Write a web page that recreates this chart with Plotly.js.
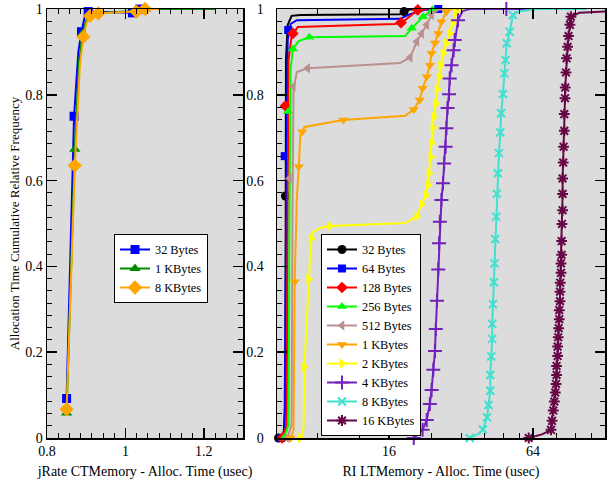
<!DOCTYPE html>
<html><head><meta charset="utf-8">
<script src="https://cdn.plot.ly/plotly-3.0.1.min.js"></script>
<style>html,body{margin:0;padding:0;background:#fff}#chart{width:608px;height:485px}</style>
</head><body><div id="chart"></div>
<script>
// ---------- Left panel: jRate CTMemory ----------
const jr32PathX = [0.850,0.869,0.880,0.888,0.897,0.905,0.950,1.018,1.037,1.060];
const jr32PathY = [0.092,0.750,0.900,0.947,0.985,0.994,0.993,0.991,1.000,1.000];
const jr32MarkX = [0.850,0.869,0.888,0.905,1.018,1.037];
const jr32MarkY = [0.092,0.750,0.947,0.994,0.991,1.000];

const jr1kPathX = [0.850,0.871,0.882,0.891,0.900,0.910,0.930,1.028,1.050,1.228];
const jr1kPathY = [0.058,0.673,0.880,0.943,0.972,0.986,0.990,0.996,1.000,1.000];
const jr1kMarkX = [0.850,0.871,0.891,0.910,1.028,1.050];
const jr1kMarkY = [0.058,0.673,0.943,0.986,0.996,1.000];

const jr8kPathX = [0.850,0.871,0.884,0.893,0.901,0.910,0.931,1.028,1.050,1.088];
const jr8kPathY = [0.067,0.635,0.870,0.935,0.968,0.984,0.990,0.994,1.000,1.000];
const jr8kMarkX = [0.850,0.871,0.893,0.910,0.931,1.028,1.050];
const jr8kMarkY = [0.067,0.635,0.935,0.984,0.990,0.994,1.000];

// ---------- Right panel: RI LTMemory ----------
const ri32PathX = [5.52,5.79,5.90,5.90,5.93,6.03,6.26,6.81,17.8,18.5,19.6,21.5];
const ri32PathY = [0.000,0.002,0.089,0.564,0.881,0.963,0.984,0.986,0.988,0.994,0.999,1.000];
const ri32MarkX = [5.52,5.90,18.5];
const ri32MarkY = [0.000,0.564,0.994];

const ri64PathX = [5.67,5.85,5.90,5.97,6.03,6.20,6.58,17.8,19.6,22.6,25.6];
const ri64PathY = [0.000,0.019,0.322,0.741,0.928,0.965,0.974,0.977,0.988,0.998,1.000];
const ri64MarkX = [5.67,5.86,6.06,25.7];
const ri64MarkY = [0.000,0.657,0.951,1.000];

const ri128PathX = [5.72,5.97,6.03,6.08,6.26,6.64,16.9,18.7,21.1,23.2];
const ri128PathY = [0.000,0.030,0.555,0.881,0.937,0.958,0.965,0.974,0.998,1.000];
const ri128MarkX = [5.72,5.90,6.34,17.95,21.1];
const ri128MarkY = [0.000,0.774,0.943,0.968,0.998];

const ri256PathX = [5.81,6.08,6.14,6.20,6.34,6.70,7.43,18.7,19.9,22.2,24.3,26.1];
const ri256PathY = [0.000,0.030,0.555,0.858,0.907,0.925,0.934,0.937,0.955,0.982,0.998,1.000];
const ri256MarkX = [5.81,6.06,6.34,7.43,19.9,22.2,24.3];
const ri256MarkY = [0.000,0.761,0.907,0.934,0.955,0.982,0.998];

const ri512PathX = [6.00,6.26,6.32,6.38,6.58,7.31,17.8,19.6,20.9,21.9,23.0,24.1,25.6,27.4];
const ri512PathY = [0.000,0.030,0.555,0.811,0.853,0.862,0.874,0.887,0.924,0.943,0.963,0.986,0.998,1.000];
const ri512MarkX = [6.00,6.13,6.36,7.31,19.6,20.9,21.9,23.0,24.1];
const ri512MarkY = [0.000,0.605,0.819,0.862,0.887,0.924,0.943,0.963,0.986];

const ri1kPathX = [6.20,6.38,6.45,6.58,6.71,6.81,7.08,10.3,18.7,20.3,21.5,22.1,23.0,23.7,24.1,24.9,25.7,26.5,27.8,29.0,41.3];
const ri1kPathY = [0.000,0.019,0.364,0.555,0.632,0.706,0.725,0.741,0.751,0.766,0.788,0.815,0.842,0.869,0.897,0.921,0.943,0.970,0.994,1.000,1.000];
const ri1kMarkX = [6.20,6.45,6.71,6.93,10.3,20.3,21.5,22.1,23.0,23.7,24.1,24.9,25.7,26.5,27.8];
const ri1kMarkY = [0.000,0.364,0.632,0.714,0.741,0.766,0.788,0.815,0.842,0.869,0.897,0.921,0.943,0.970,0.994];

const ri2kPathX = [6.81,7.02,7.08,7.38,7.55,7.71,8.26,9.02,18.7,19.9,20.9,21.9,22.8,23.3,23.5,23.9,24.1,24.4,24.6,25.1,25.4,25.9,26.3,26.9,27.8,28.7,29.6,30.4,32.2,36.5];
const ri2kPathY = [0.000,0.019,0.165,0.370,0.465,0.480,0.490,0.494,0.501,0.510,0.517,0.545,0.566,0.590,0.617,0.655,0.688,0.723,0.749,0.779,0.813,0.842,0.869,0.897,0.920,0.943,0.967,0.990,1.000,1.000];
const ri2kMarkX = [6.81,7.08,7.38,7.55,9.02,20.9,21.9,22.8,23.3,23.5,23.9,24.1,24.4,24.6,25.1,25.4,25.9,26.3,26.9,27.8,28.7,29.6,30.4];
const ri2kMarkY = [0.000,0.165,0.370,0.465,0.494,0.517,0.545,0.566,0.590,0.617,0.655,0.688,0.723,0.749,0.779,0.813,0.842,0.869,0.897,0.920,0.943,0.967,0.990];

const ri4kPathX = [20.3,22.1,23.0,23.7,24.1,24.5,24.9,25.1,25.4,25.7,25.9,26.1,26.5,26.9,27.2,27.6,27.8,28.1,28.5,28.7,29.2,29.8,30.1,31.1,32.5,34.8,106.8];
const ri4kPathY = [0.000,0.019,0.042,0.079,0.112,0.159,0.203,0.254,0.320,0.393,0.454,0.504,0.555,0.594,0.640,0.679,0.722,0.769,0.801,0.838,0.869,0.904,0.928,0.974,0.995,1.000,1.000];
const ri4kMarkX = [20.3,22.1,23.0,23.7,24.1,24.5,24.9,25.1,25.4,25.7,25.9,26.1,26.5,26.9,27.2,27.6,27.8,28.1,28.5,28.7,29.2,29.8,30.1,31.1,49.5];
const ri4kMarkY = [0.000,0.019,0.042,0.079,0.112,0.159,0.203,0.254,0.320,0.393,0.454,0.504,0.555,0.594,0.640,0.679,0.722,0.769,0.801,0.838,0.869,0.904,0.928,0.974,1.000];

const ri8kPathX = [34.8,38.3,39.5,41.1,41.7,42.4,42.4,42.8,43.2,43.2,43.5,43.9,44.2,44.5,44.9,45.2,45.6,46.1,46.7,47.1,47.9,48.6,49.1,49.7,51.1,52.7,56.2,68.1,106.8];
const ri8kPathY = [0.000,0.011,0.020,0.048,0.077,0.110,0.147,0.190,0.231,0.266,0.312,0.363,0.407,0.464,0.516,0.569,0.617,0.664,0.712,0.757,0.802,0.850,0.881,0.920,0.947,0.986,0.995,1.000,1.000];
const ri8kMarkX = [34.8,39.5,41.1,41.7,42.4,42.4,42.8,43.2,43.2,43.5,43.9,44.2,44.5,44.9,45.2,45.6,46.1,46.7,47.1,47.9,48.6,49.1,49.7,51.1,52.7];
const ri8kMarkY = [0.000,0.020,0.048,0.077,0.110,0.147,0.190,0.231,0.266,0.312,0.363,0.407,0.464,0.516,0.569,0.617,0.664,0.712,0.757,0.802,0.850,0.881,0.920,0.947,0.986];

const ri16kMarkX = [61.4,76.1,76.9,77.8,78.6,79.3,79.9,80.3,80.3,81.1,81.1,81.6,81.9,82.4,82.4,83.0,83.0,83.2,83.8,83.8,84.3,84.3,84.6,85.1,85.1,85.1,85.6,85.9,86.5,86.5,87.1,87.3,87.9,88.4,89.3,90.1,91.3,92.2];
const ri16kMarkY = [0.000,0.019,0.040,0.064,0.085,0.106,0.126,0.147,0.168,0.191,0.213,0.235,0.256,0.277,0.298,0.319,0.341,0.362,0.385,0.407,0.427,0.459,0.499,0.531,0.569,0.605,0.642,0.679,0.716,0.755,0.792,0.817,0.852,0.885,0.912,0.937,0.963,0.982];
const ri16kPathX = [61.4,70.2].concat(ri16kMarkX.slice(1), [99.9,128.2]);
const ri16kPathY = [0.000,0.009].concat(ri16kMarkY.slice(1), [0.991,0.994]);

const leftNames  = ['32 Bytes','1 KBytes','8 KBytes'];
const rightNames = ['32 Bytes','64 Bytes','128 Bytes','256 Bytes','512 Bytes','1 KBytes','2 KBytes','4 KBytes','8 KBytes','16 KBytes'];

const xTitleLeft  = 'jRate CTMemory - Alloc. Time (usec)';
const xTitleRight = 'RI LTMemory - Alloc. Time (usec)';
const yTitle      = 'Allocation Time Cumulative Relative Frequency';
const rightTickVals = [16, 64];
const rightMinorVals = [8, 12, 24, 32, 40, 48, 56, 80, 96, 112];

// ---------- build traces ----------
const FONT = 'Liberation Serif, Times New Roman, serif';
const traces = [];
function addSeries(name, color, sym, size, px, py, mx, my, xa, ya, leg) {
  const open = /open/.test(sym);
  const mk = {symbol: sym, size: size, color: color,
              line: {color: color, width: open ? 2 : 0}};
  traces.push({x: px, y: py, xaxis: xa, yaxis: ya, mode: 'lines',
               line: {color: color, width: 2}, showlegend: false, hoverinfo: 'skip'});
  traces.push({x: mx, y: my, xaxis: xa, yaxis: ya, mode: 'markers',
               marker: mk, showlegend: false, cliponaxis: false});
  traces.push({x: [null], y: [null], xaxis: xa, yaxis: ya, mode: 'lines+markers',
               name: name, line: {color: color, width: 2}, marker: mk, legend: leg});
}
addSeries(leftNames[0], '#0000ff', 'square', 9, jr32PathX, jr32PathY, jr32MarkX, jr32MarkY, 'x', 'y', 'legend');
addSeries(leftNames[1], '#008b00', 'triangle-up', 10, jr1kPathX, jr1kPathY, jr1kMarkX, jr1kMarkY, 'x', 'y', 'legend');
addSeries(leftNames[2], '#ffa500', 'diamond', 11, jr8kPathX, jr8kPathY, jr8kMarkX, jr8kMarkY, 'x', 'y', 'legend');

const rs = [
  ['#000000','circle',9, ri32PathX, ri32PathY, ri32MarkX, ri32MarkY],
  ['#0000ff','square',8, ri64PathX, ri64PathY, ri64MarkX, ri64MarkY],
  ['#ff0000','diamond',9, ri128PathX, ri128PathY, ri128MarkX, ri128MarkY],
  ['#00ff00','triangle-up',9, ri256PathX, ri256PathY, ri256MarkX, ri256MarkY],
  ['#bc8f8f','triangle-left',9, ri512PathX, ri512PathY, ri512MarkX, ri512MarkY],
  ['#ffa500','triangle-down',9, ri1kPathX, ri1kPathY, ri1kMarkX, ri1kMarkY],
  ['#ffff00','triangle-right',9, ri2kPathX, ri2kPathY, ri2kMarkX, ri2kMarkY],
  ['#7221bc','cross-thin-open',10, ri4kPathX, ri4kPathY, ri4kMarkX, ri4kMarkY],
  ['#40e0d0','x-thin-open',8, ri8kPathX, ri8kPathY, ri8kMarkX, ri8kMarkY],
  ['#670748','asterisk-open',9, ri16kPathX, ri16kPathY, ri16kMarkX, ri16kMarkY]
];
rs.forEach((s, i) => addSeries(rightNames[i], s[0], s[1], s[2], s[3], s[4], s[5], s[6], 'x2', 'y2', 'legend2'));

// ---------- layout ----------
const W = 608, H = 485;
const tickFont = {family: FONT, size: 14, color: '#000'};
const commonAxis = {
  ticks: 'inside', ticklen: 10, tickwidth: 1.5, tickcolor: '#000',
  showline: true, linecolor: '#000', linewidth: 1.5, mirror: 'ticks',
  showgrid: false, zeroline: false, tickfont: tickFont, fixedrange: true
};
const yCommon = Object.assign({}, commonAxis, {
  range: [0, 1], dtick: 0.2, tick0: 0, domain: [1 - 438/H, 1 - 9/H],
  minor: {ticks: 'inside', ticklen: 5, tickwidth: 1, tickcolor: '#000', dtick: 0.2/7, tick0: 0, showgrid: false}
});
const legendFont = {family: FONT, size: 12.3};
const layout = {
  width: W, height: H,
  margin: {l: 0, r: 0, t: 0, b: 0},
  paper_bgcolor: '#ffffff', plot_bgcolor: '#dcdcdc',
  font: {family: FONT, size: 14, color: '#000'},
  showlegend: true,
  xaxis: Object.assign({}, commonAxis, {
    domain: [47/W, 243/W], range: [0.8, 1.3], dtick: 0.2, tick0: 0, anchor: 'y',
    minor: {ticks: 'inside', ticklen: 5, tickwidth: 1, tickcolor: '#000', dtick: 0.2/7, tick0: 0.8, showgrid: false},
    title: {text: xTitleLeft, font: {family: FONT, size: 14}, standoff: 8}
  }),
  yaxis: Object.assign({}, yCommon, {anchor: 'x',
    title: {text: yTitle, font: {family: FONT, size: 13}, standoff: 2}}),
  xaxis2: Object.assign({}, commonAxis, {
    domain: [277/W, 605/W], type: 'log', range: [Math.log10(5.44), Math.log10(128)], anchor: 'y2',
    tickmode: 'array', tickvals: rightTickVals, ticktext: rightTickVals.map(String),
    minor: {ticks: 'inside', ticklen: 5, tickwidth: 1, tickcolor: '#000', tickmode: 'array', tickvals: rightMinorVals, showgrid: false},
    title: {text: xTitleRight, font: {family: FONT, size: 14}, standoff: 8}
  }),
  yaxis2: Object.assign({}, yCommon, {anchor: 'x2', ticklabelstandoff: 9}),
  legend: {x: 114/W, y: 1 - 234/H, xanchor: 'left', yanchor: 'top', bgcolor: '#ffffff',
           bordercolor: '#000', borderwidth: 1, font: legendFont, itemwidth: 30, tracegroupgap: 0},
  legend2: {x: 321/W, y: 1 - 234/H, xanchor: 'left', yanchor: 'top', bgcolor: '#ffffff',
            bordercolor: '#000', borderwidth: 1, font: legendFont, itemwidth: 30, tracegroupgap: 0}
};
Plotly.newPlot('chart', traces, layout, {staticPlot: true, displayModeBar: false});
</script></body></html>
